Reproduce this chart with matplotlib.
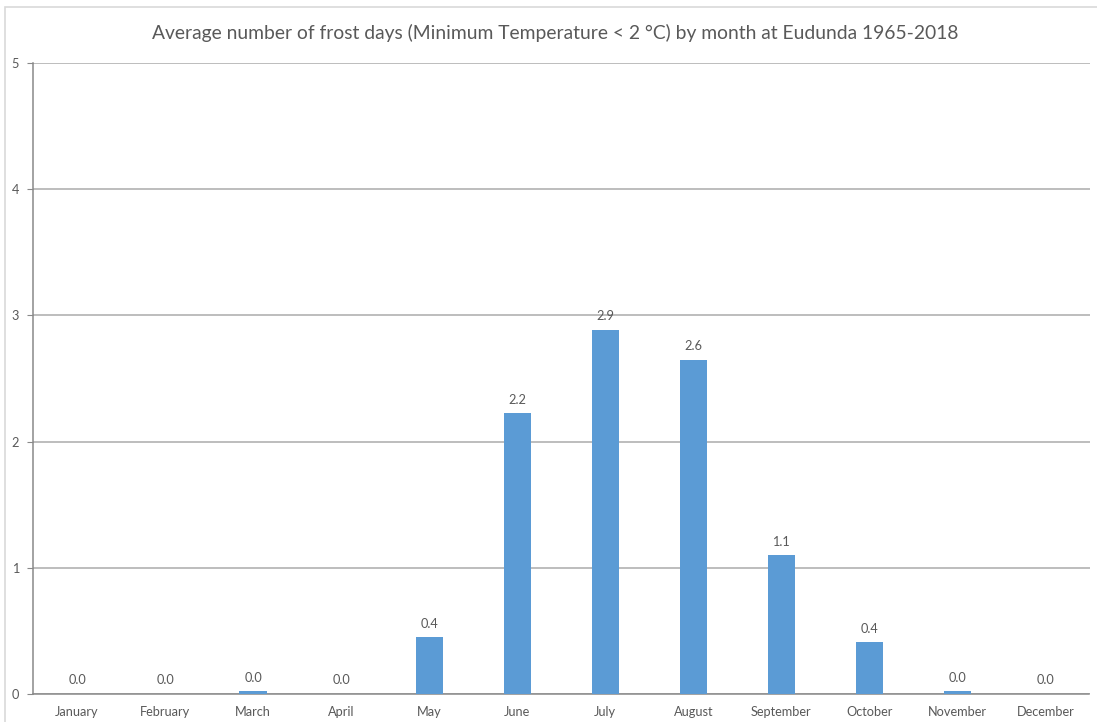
import matplotlib
matplotlib.use("Agg")
import matplotlib.pyplot as plt
from matplotlib.patches import Rectangle
import numpy as np

plt.rcParams['font.family'] = ['Lato', 'DejaVu Sans']

months = ['January', 'February', 'March', 'April', 'May', 'June',
          'July', 'August', 'September', 'October', 'November', 'December']
frost_days = [0.0, 0.0, 0.02, 0.0, 0.447, 2.224, 2.887, 2.646, 1.098, 0.408, 0.02, 0.0]
title = 'Average number of frost days (Minimum Temperature < 2 \u00b0C) by month at Eudunda 1965-2018'

bar_col = '#5B9BD5'
txt_col = '#595959'
grid_col = '#ABABAB'

fig = plt.figure(figsize=(10.97, 7.22), dpi=100)
# outer chart border
fig.patches.append(Rectangle((5 / 1097, -0.1), 1.2, 1.1 - 7 / 722,
                             transform=fig.transFigure, fill=False,
                             edgecolor='#D9D9D9', lw=1.2))

ax = fig.add_axes([33 / 1097, 1 - 693.7 / 722, (1089.5 - 33) / 1097, (693.7 - 63.3) / 722])
x = np.arange(len(months))
ax.bar(x, frost_days, width=0.31, color=bar_col, zorder=3)

for xi, v in zip(x, frost_days):
    ax.annotate('%.1f' % v, (xi, v), xytext=(0, 5.5), textcoords='offset points',
                ha='center', va='bottom', fontsize=9.2, color=txt_col, zorder=4)

ax.set_xlim(-0.5, len(months) - 0.5)
ax.set_ylim(0, 5)
ax.set_yticks(range(6))
ax.set_xticks(x)
ax.set_xticklabels(months)
ax.yaxis.grid(True, color=grid_col, lw=1.1, zorder=0)
ax.set_axisbelow(True)
for s in ['top', 'right']:
    ax.spines[s].set_visible(False)
ax.spines['left'].set_color('#898989')
ax.spines['bottom'].set_color('#898989')
ax.spines['left'].set_linewidth(1.1)
ax.spines['bottom'].set_linewidth(1.1)
ax.tick_params(axis='y', length=4, color='#898989', labelsize=9.2, labelcolor=txt_col, pad=6)
ax.tick_params(axis='x', length=0, labelsize=9.2, labelcolor=txt_col, pad=9)

fig.text(555 / 1097, 1 - 33 / 722, title, ha='center', va='center', fontsize=13.9, color=txt_col)

fig.savefig('out.png', dpi=100)
